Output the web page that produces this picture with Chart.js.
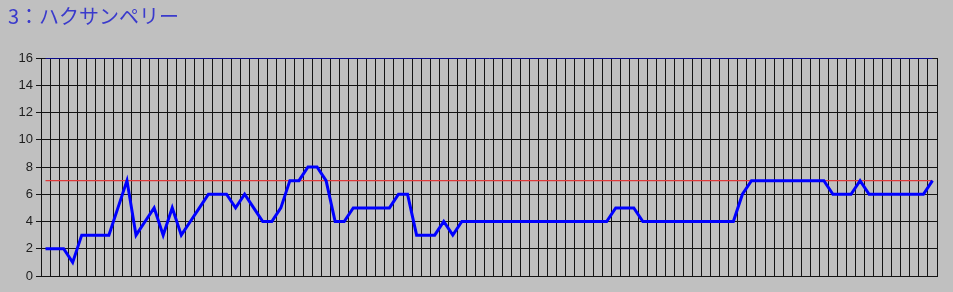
<!DOCTYPE html>
<html>
<head>
<meta charset="utf-8">
<script src="https://cdn.jsdelivr.net/npm/chart.js@4/dist/chart.umd.min.js"></script>
<style>
  html, body { margin: 0; padding: 0; background: #c0c0c0; }
  #wrap { width: 953px; height: 292px; }
</style>
</head>
<body>
<div id="wrap"><canvas id="chart" width="953" height="292"></canvas></div>
<script>
const chartTitle = '3：ハクサンペリー';

// measured values, one per day
const countValues = [
  2, 2, 2, 1, 3, 3, 3, 3, 5, 7,
  3, 4, 5, 3, 5, 3, 4, 5, 6, 6,
  6, 5, 6, 5, 4, 4, 5, 7, 7, 8,
  8, 7, 4, 4, 5, 5, 5, 5, 5, 6,
  6, 3, 3, 3, 4, 3, 4, 4, 4, 4,
  4, 4, 4, 4, 4, 4, 4, 4, 4, 4,
  4, 4, 4, 5, 5, 5, 4, 4, 4, 4,
  4, 4, 4, 4, 4, 4, 4, 6, 7, 7,
  7, 7, 7, 7, 7, 7, 7, 6, 6, 6,
  7, 6, 6, 6, 6, 6, 6, 6, 7
];
const dayLabels = countValues.map((_, i) => String(i + 1));
const thresholdValues = dayLabels.map(() => 7);
const ceilingValues = dayLabels.map(() => 16);
const yTicks = [0, 2, 4, 6, 8, 10, 12, 14, 16];

const GRID = '#141414';

new Chart(document.getElementById('chart'), {
  type: 'line',
  data: {
    labels: dayLabels,
    datasets: [
      { data: countValues, borderColor: '#0000ff', borderWidth: 3, pointRadius: 0, tension: 0 },
      { data: thresholdValues, borderColor: '#e03a3a', borderWidth: 1.4, pointRadius: 0 },
      { data: ceilingValues, borderColor: '#0000ff', borderWidth: 1, pointRadius: 0 },
    ]
  },
  options: {
    responsive: false,
    animation: false,
    events: [],
    layout: { padding: { left: 8, right: 16, bottom: 16, top: 0 } },
    plugins: {
      legend: { display: false },
      tooltip: { enabled: false },
      title: {
        display: true,
        text: chartTitle,
        align: 'start',
        color: '#3a3acc',
        font: { family: '"Noto Sans CJK JP", sans-serif', size: 20, weight: 'normal' },
        padding: { top: 4, bottom: 30 },
      }
    },
    scales: {
      x: {
        offset: true,
        grid: { offset: true, color: GRID, drawTicks: false },
        border: { color: GRID },
        ticks: { display: false },
        afterFit: s => { s.height = 0; },
      },
      y: {
        min: 0, max: 16,
        afterBuildTicks: s => { s.ticks = yTicks.map(v => ({ value: v })); },
        grid: { color: GRID, tickLength: 5 },
        border: { color: GRID },
        ticks: {
          padding: 3, color: '#1e1e1e',
          font: { family: '"Liberation Sans", Arial, sans-serif', size: 13 },
        },
        afterFit: s => { s.width = 33; },
      }
    }
  }
});
</script>
</body>
</html>
